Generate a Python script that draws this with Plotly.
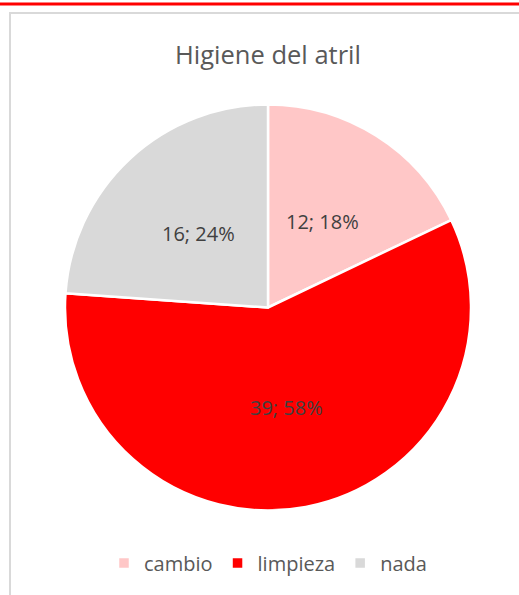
import math
import plotly.graph_objects as go

categories = ["cambio", "limpieza", "nada"]
values = [12, 39, 16]
colors = ["#FFC7C7", "#FF0000", "#D9D9D9"]

W, H = 519, 595
cx, cy, r = 268, 307.5, 203

fig = go.Figure(go.Pie(
    labels=categories,
    values=values,
    marker=dict(colors=colors, line=dict(color="white", width=2.5)),
    sort=False,
    direction="clockwise",
    rotation=0,
    textinfo="none",
    domain=dict(x=[(cx - r) / W, (cx + r) / W], y=[(H - cy - r) / H, (H - cy + r) / H]),
    hoverinfo="label+value+percent",
))

# data labels placed at half radius along each slice's mid angle (Excel-style)
total = sum(values)
annotations = []
cum = 0
for v in values:
    mid = (cum + v / 2) / total * 2 * math.pi
    cum += v
    px = cx + 0.5 * r * math.sin(mid)
    py = cy - 0.5 * r * math.cos(mid)
    annotations.append(dict(
        x=px / W, y=1 - py / H, xref="paper", yref="paper", showarrow=False,
        text=f"{v}; {round(100 * v / total)}%",
        font=dict(family="Open Sans", size=20, color="#404040"),
        xanchor="center", yanchor="middle",
    ))

fig.update_layout(
    width=W, height=H,
    margin=dict(l=0, r=0, t=0, b=0),
    paper_bgcolor="white",
    title=dict(text="Higiene del atril", x=cx / W, xanchor="center", y=1 - 55 / H, yanchor="middle",
               font=dict(family="Open Sans", size=25.5, color="#595959")),
    showlegend=True,
    legend=dict(orientation="h", x=cx / W, xanchor="center", y=1 - 563 / H, yanchor="middle",
                font=dict(family="Open Sans", size=20, color="#595959"), traceorder="normal",
                itemwidth=30),
    annotations=annotations,
    shapes=[
        dict(type="line", xref="paper", yref="paper", x0=0, x1=1, y0=1 - 4 / H, y1=1 - 4 / H,
             line=dict(color="#FF0000", width=3)),
        dict(type="rect", xref="paper", yref="paper", x0=10 / W, x1=1.05, y0=-0.05, y1=1 - 13 / H,
             line=dict(color="#D9D9D9", width=2)),
    ],
)

fig.write_html("out.html", config={"displayModeBar": False},
               post_script="document.body.style.margin='0';document.body.style.overflow='hidden';")
